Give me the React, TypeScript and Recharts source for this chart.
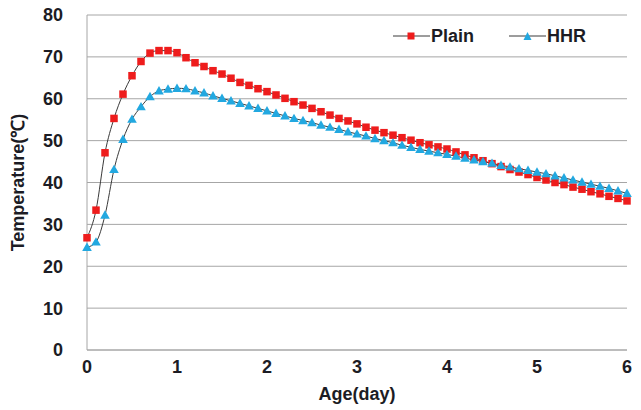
import React from 'react';
import { LineChart, Line, XAxis, YAxis, CartesianGrid, Legend } from 'recharts';

const days: number[] = [
  0, 0.1, 0.2, 0.3, 0.4, 0.5, 0.6, 0.7, 0.8, 0.9,
  1, 1.1, 1.2, 1.3, 1.4, 1.5, 1.6, 1.7, 1.8, 1.9,
  2, 2.1, 2.2, 2.3, 2.4, 2.5, 2.6, 2.7, 2.8, 2.9,
  3, 3.1, 3.2, 3.3, 3.4, 3.5, 3.6, 3.7, 3.8, 3.9,
  4, 4.1, 4.2, 4.3, 4.4, 4.5, 4.6, 4.7, 4.8, 4.9,
  5, 5.1, 5.2, 5.3, 5.4, 5.5, 5.6, 5.7, 5.8, 5.9, 6,
];

const plain: number[] = [
  26.8, 33.4, 47.1, 55.3, 61.1, 65.5, 68.9, 70.9, 71.5, 71.5,
  71.0, 69.8, 68.6, 67.7, 66.7, 65.9, 64.9, 63.9, 63.2, 62.4,
  61.7, 60.9, 60.1, 59.3, 58.5, 57.7, 56.9, 56.1, 55.3, 54.7,
  54.0, 53.2, 52.5, 51.9, 51.3, 50.7, 50.1, 49.5, 49.0, 48.5,
  48.0, 47.3, 46.6, 45.9, 45.2, 44.5, 43.8, 43.1, 42.5, 41.9,
  41.2, 40.6, 40.0, 39.5, 38.9, 38.4, 37.8, 37.3, 36.7, 36.2, 35.6,
];

const hhr: number[] = [
  24.5, 25.8, 32.2, 43.1, 50.3, 55.1, 58.1, 60.5, 61.9, 62.3,
  62.5, 62.4, 61.9, 61.4, 60.7, 60.1, 59.5, 58.9, 58.3, 57.7,
  57.1, 56.5, 55.9, 55.3, 54.8, 54.3, 53.7, 53.2, 52.7, 52.1,
  51.6, 51.1, 50.5, 50.0, 49.5, 48.9, 48.4, 47.9, 47.5, 47.1,
  46.7, 46.3, 45.8, 45.4, 45.0, 44.6, 44.1, 43.7, 43.3, 42.9,
  42.5, 42.1, 41.6, 41.1, 40.6, 40.1, 39.6, 39.1, 38.6, 38.0, 37.4,
];

const xTicks: number[] = [0, 1, 2, 3, 4, 5, 6];
const yTicks: number[] = [0, 10, 20, 30, 40, 50, 60, 70, 80];

const data = days.map((d, i) => ({ day: d, plain: plain[i], hhr: hhr[i] }));

const FONT = '"Liberation Sans", Arial, sans-serif';
const TEXT = '#1c1c24';
const RED = '#ee1c1c';
const BLUE = '#22a8e0';
const LINE = '#3a3a3a';
const FS = 18;

const SquareDot = (props: any) => {
  const { cx, cy } = props;
  if (cx == null || cy == null) return null;
  return <rect key={`s${props.index}`} x={cx - 3.75} y={cy - 3.75} width={7.5} height={7.5} fill={RED} />;
};

const TriDot = (props: any) => {
  const { cx, cy } = props;
  if (cx == null || cy == null) return null;
  return (
    <polygon
      key={`t${props.index}`}
      points={`${cx},${cy - 4.8} ${cx - 4.8},${cy + 3.6} ${cx + 4.8},${cy + 3.6}`}
      fill={BLUE}
    />
  );
};

const renderLegend = () => {
  const items = [
    { name: 'Plain', kind: 'square' },
    { name: 'HHR', kind: 'tri' },
  ];
  return (
    <div style={{ display: 'flex', alignItems: 'center', fontFamily: FONT, fontWeight: 700, fontSize: FS, color: TEXT, lineHeight: '20px' }}>
      {items.map((it, i) => (
        <div key={it.name} style={{ display: 'flex', alignItems: 'center', marginRight: i === 0 ? 35 : 0 }}>
          <svg width={37} height={14} style={{ display: 'block' }}>
            <line x1={0} y1={7} x2={37} y2={7} stroke={LINE} strokeWidth={1} />
            {it.kind === 'square' ? (
              <rect x={14.5} y={3.5} width={7} height={7} fill={RED} />
            ) : (
              <polygon points="18.5,3 14.5,11 22.5,11" fill={BLUE} />
            )}
          </svg>
          <span style={{ marginLeft: 1 }}>{it.name}</span>
        </div>
      ))}
    </div>
  );
};

const YLabel = (props: any) => {
  const vb = props.viewBox || { x: 0, y: 0, width: 0, height: 0 };
  const x = vb.x + 24;
  const y = vb.y + vb.height / 2;
  return (
    <text
      x={x}
      y={y}
      transform={`rotate(-90, ${x}, ${y})`}
      textAnchor="middle"
      fontFamily={FONT}
      fontWeight={700}
      fontSize={FS}
      fill={TEXT}
    >
      Temperature(℃)
    </text>
  );
};

export default function App() {
  return (
    <div style={{ position: 'absolute', left: 0, top: 0, width: 641, height: 410, background: '#fff' }}>
      <LineChart width={641} height={410} data={data} margin={{ top: 15, right: 14, bottom: 20, left: 0 }}>
        <CartesianGrid vertical={false} stroke="#a6a6a6" strokeWidth={1} />
        <XAxis
          dataKey="day"
          type="number"
          domain={[0, 6]}
          ticks={xTicks}
          interval={0}
          height={40}
          tickLine={false}
          tickSize={0}
          tickMargin={10}
          axisLine={{ stroke: '#a6a6a6' }}
          tick={{ fill: TEXT, fontFamily: FONT, fontWeight: 700, fontSize: FS }}
          label={{ value: 'Age(day)', position: 'bottom', offset: -3, fill: TEXT, fontFamily: FONT, fontWeight: 700, fontSize: FS }}
        />
        <YAxis
          type="number"
          domain={[0, 80]}
          ticks={yTicks}
          interval={0}
          width={87}
          tickLine={false}
          tickSize={0}
          tickMargin={24}
          axisLine={{ stroke: '#a6a6a6' }}
          tick={{ fill: TEXT, fontFamily: FONT, fontWeight: 700, fontSize: FS }}
          label={<YLabel />}
        />
        <Legend
          content={renderLegend}
          layout="horizontal"
          verticalAlign="middle"
          align="center"
          wrapperStyle={{ position: 'absolute', left: 393, top: 26, width: 230, right: 'auto', bottom: 'auto' }}
        />
        <Line
          type="monotone"
          dataKey="plain"
          name="Plain"
          stroke={LINE}
          strokeWidth={1}
          dot={SquareDot}
          activeDot={false}
          isAnimationActive={false}
        />
        <Line
          type="monotone"
          dataKey="hhr"
          name="HHR"
          stroke={LINE}
          strokeWidth={1}
          dot={TriDot}
          activeDot={false}
          isAnimationActive={false}
        />
      </LineChart>
    </div>
  );
}
